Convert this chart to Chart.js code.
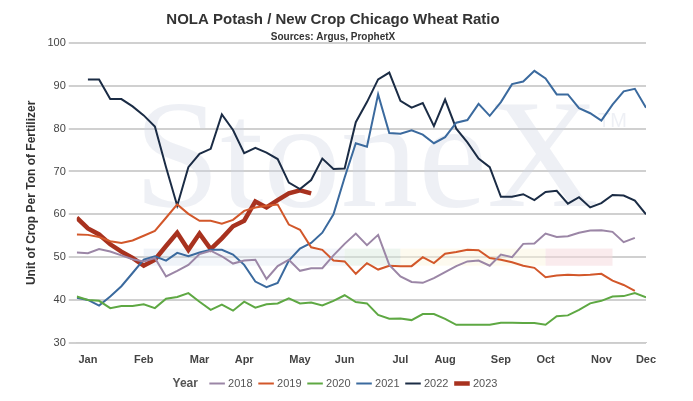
<!DOCTYPE html>
<html><head><meta charset="utf-8">
<script src="https://cdn.jsdelivr.net/npm/chart.js@4"></script>
<style>html,body{margin:0;padding:0;background:#fff}#w{width:693px;height:401px}</style>
</head><body><div id="w"><canvas id="c"></canvas></div>
<script>
const weeks = Array.from({length:52},(_,i)=>i);
const monthTicks = {1:'Jan',6:'Feb',11:'Mar',15:'Apr',20:'May',24:'Jun',29:'Jul',33:'Aug',38:'Sep',42:'Oct',47:'Nov',51:'Dec'};
const y2018 = [51.1,50.9,51.9,51.3,50.4,49.5,49,49.8,45.5,46.8,48.2,50.7,51.5,50.2,48.5,49.2,49.4,44.9,47.9,49.4,46.8,47.4,47.4,50.4,53.1,55.5,52.8,55.2,48.2,45.5,44.2,44,45.1,46.5,47.9,49,49.2,48,50.6,50,53.1,53.2,55.5,54.7,54.9,55.7,56.2,56.3,55.9,53.5,54.5,null];
const y2019 = [55.3,55.2,54.7,53.7,53.3,53.9,55,56.1,59.2,62.3,60.1,58.5,58.5,57.8,58.7,60.8,61.6,62,62.3,57.6,56.4,52.3,51.7,49.2,49,46.1,48.6,47.1,48,47.9,47.9,50,48.6,50.8,51.2,51.7,51.6,49.8,49.4,48.8,48,47.5,45.3,45.7,45.9,45.8,45.9,46.1,44.5,43.5,42.1,null];
const y2020 = [40.8,40,39.8,38.1,38.6,38.6,39,38.1,40.3,40.7,41.6,39.6,37.7,38.9,37.5,39.6,38.2,39,39.2,40.4,39.2,39.4,38.7,39.8,41.1,39.5,39.2,36.5,35.6,35.7,35.3,36.7,36.7,35.6,34.2,34.2,34.2,34.2,34.7,34.7,34.6,34.6,34.2,36.2,36.4,37.7,39.2,39.8,40.8,40.9,41.6,40.6];
const y2021 = [40.5,40,38.7,40.8,43.2,46.3,49.4,50.2,49.2,51,50.2,51.1,51.7,51.7,50.6,48.2,44.3,43,44,49.2,52,53.3,55.7,60,68.6,76.6,75.8,88,79,78.8,79.6,78.6,76.6,78,81.4,82,85.8,83,86.2,90.4,91,93.5,91.7,88,88,84.8,83.6,81.9,85.6,88.7,89.3,84.9];
const y2022 = [null,91.5,91.5,86.9,86.9,85.2,83.1,80.5,71,62,71,74.1,75.3,83.3,79.7,74.3,75.5,74.4,72.9,67.4,65.9,68,73,70.6,70.7,81.5,86.2,91.5,93.1,86.5,84.9,86,80.6,86.8,80,76.8,73,71,64.1,64.1,64.7,63.3,65.2,65.5,62.5,64,61.6,62.6,64.5,64.4,63.2,60];
const y2023 = [59.2,56.7,55.3,53,51.3,49.8,48,49.4,52.6,55.7,51.7,55.5,51.9,54.4,57.2,58.5,63,61.6,63.3,64.9,65.6,64.9,null,null,null,null,null,null,null,null,null,null,null,null,null,null,null,null,null,null,null,null,null,null,null,null,null,null,null,null,null,null];
const bands = [[6,11,'rgba(210,220,235,0.35)'],[11,24,'rgba(225,232,242,0.4)'],[24,29,'rgba(215,232,220,0.45)'],[29,42,'rgba(250,245,220,0.45)'],[42,48,'rgba(245,215,220,0.5)']];
const bg = {id:'bg',beforeDatasetsDraw(ch){const {ctx,scales:{x,y}}=ch;ctx.save();
 ctx.fillStyle='rgba(205,212,225,0.35)';ctx.font='155px "Liberation Serif"';ctx.textBaseline='alphabetic';ctx.fillText('StoneX',134,y.getPixelForValue(62));
 ctx.font='20px "Liberation Sans"';ctx.fillText('TM',598,y.getPixelForValue(80.5));
 bands.forEach(b=>{ctx.fillStyle=b[2];const x0=x.getPixelForValue(b[0]),x1=x.getPixelForValue(b[1]);const y0=y.getPixelForValue(52),y1=y.getPixelForValue(48);ctx.fillRect(x0,y0,x1-x0,y1-y0);});
 ctx.restore();},
 afterDraw(ch){const h=ch.legend.legendHitBoxes[0];const ctx=ch.ctx;ctx.save();ctx.font='bold 12px "Liberation Sans"';ctx.fillStyle='#555';ctx.textBaseline='middle';ctx.fillText('Year',h.left+4,h.top+h.height/2);ctx.restore();}};
const ds=(l,d,c,w)=>({label:l,data:d,borderColor:c,backgroundColor:c,borderWidth:w,pointRadius:0,tension:0,spanGaps:false});
new Chart(document.getElementById('c'),{type:'line',
 data:{labels:weeks,datasets:[ds('2018',y2018,'#9b86a6',2),ds('2019',y2019,'#d2572a',2),ds('2020',y2020,'#5ea843',2),ds('2021',y2021,'#3b6a9e',2),ds('2022',y2022,'#1b2c45',2),ds('2023',y2023,'#a8321f',4.5)]},
 options:{responsive:true,maintainAspectRatio:false,animation:false,
  layout:{padding:{left:20,right:47,top:5,bottom:2}},
  plugins:{title:{display:true,text:'NOLA Potash / New Crop Chicago Wheat Ratio',font:{family:'"Liberation Sans"',size:15,weight:'bold'},color:'#333',padding:{top:6,bottom:2}},
   subtitle:{display:true,text:'Sources: Argus, ProphetX',font:{family:'"Liberation Sans"',size:10,weight:'bold'},color:'#333',padding:{bottom:0}},
   legend:{position:'bottom',
    labels:{usePointStyle:true,pointStyle:'line',boxWidth:18,padding:8,font:{family:'"Liberation Sans"',size:11},color:'#555',
     generateLabels(ch){const a=Chart.defaults.plugins.legend.labels.generateLabels(ch);a.unshift({text:'Yea',fontColor:'rgba(0,0,0,0)',fillStyle:'rgba(0,0,0,0)',strokeStyle:'rgba(0,0,0,0)',lineWidth:0,pointStyle:'line',datasetIndex:-1,hidden:false});return a;}}},
   tooltip:{enabled:false}},
  scales:{x:{type:'linear',min:0,max:51,grid:{display:false},border:{color:'#ccc'},
    afterBuildTicks(a){a.ticks=Object.keys(monthTicks).map(k=>({value:+k}));},
    ticks:{autoSkip:false,maxRotation:0,padding:3,callback:v=>monthTicks[v]||'',font:{family:'"Liberation Sans"',size:11,weight:'bold'},color:'#444'}},
   y:{min:30,max:100,ticks:{stepSize:10,font:{family:'"Liberation Sans"',size:11},color:'#444'},grid:{color:'#d0d0d0',lineWidth:2},border:{display:false},
    title:{display:true,text:'Unit of Crop Per Ton of Fertilizer',font:{family:'"Liberation Sans"',size:12,weight:'bold'},color:'#333',padding:{bottom:6}}}}},
 plugins:[bg]});
</script></body></html>
